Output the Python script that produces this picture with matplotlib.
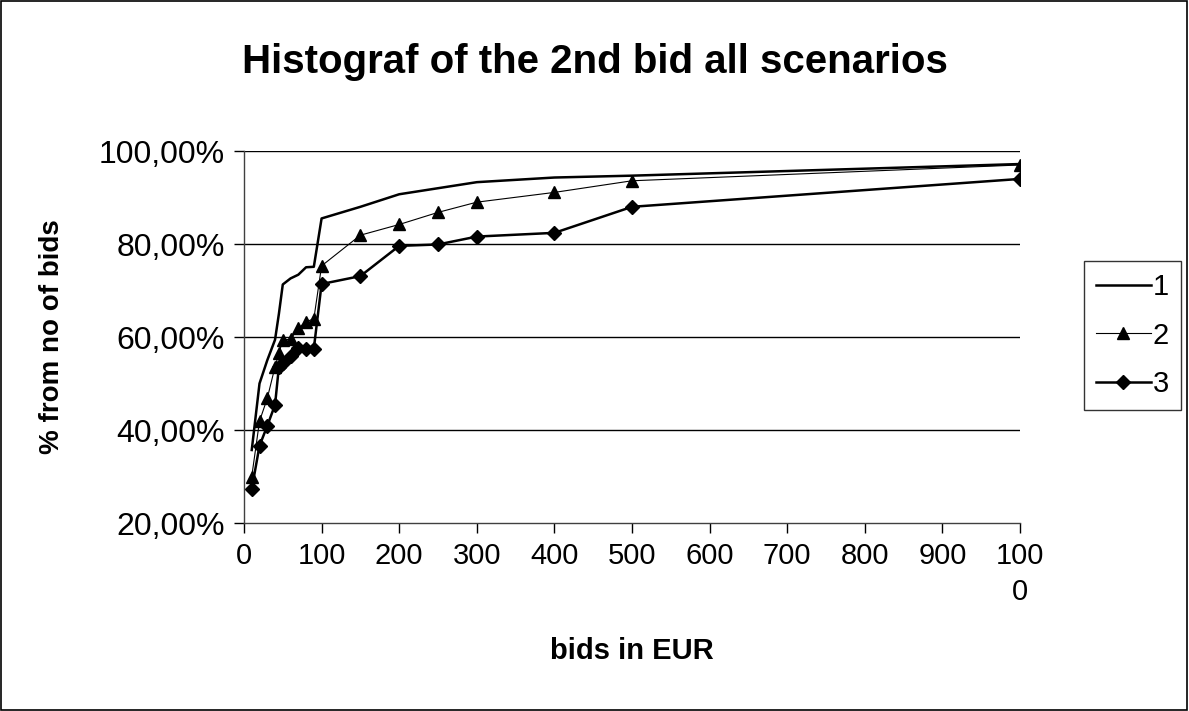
import matplotlib.pyplot as plt
from matplotlib.patches import Rectangle

plt.rcParams['font.family'] = ['Liberation Sans', 'DejaVu Sans']

# bid amounts (EUR) and cumulative share of bids per scenario (%)
bids = [10, 20, 30, 40, 45, 50, 60, 70, 80, 90, 100, 150, 200, 250, 300, 400, 500, 1000]
scenario1 = [35.7, 50.0, 55.0, 59.4, 65.0, 71.3, 72.6, 73.4, 75.0, 75.1,
             85.5, 88.0, 90.7, 92.0, 93.3, 94.3, 94.7, 97.2]
scenario2 = [30.0, 41.9, 46.8, 53.6, 56.5, 59.4, 59.5, 61.9, 63.3, 63.9,
             75.3, 81.9, 84.2, 86.8, 89.0, 91.1, 93.6, 97.0]
scenario3 = [27.3, 36.6, 40.9, 45.4, 53.6, 54.5, 55.9, 57.6, 57.5, 57.5,
             71.4, 73.1, 79.6, 79.9, 81.6, 82.4, 88.0, 94.0]

x_ticks = [0, 100, 200, 300, 400, 500, 600, 700, 800, 900, 1000]
x_labels = ['0', '100', '200', '300', '400', '500', '600', '700', '800', '900', '100\n0']
y_ticks = [20, 40, 60, 80, 100]
y_labels = ['20,00%', '40,00%', '60,00%', '80,00%', '100,00%']

fig = plt.figure(figsize=(11.89, 7.11), dpi=100)
ax = fig.add_axes([0.2052, 0.2644, 0.8579 - 0.2052, 0.7876 - 0.2644])

ax.plot(bids, scenario1, color='black', lw=1.8, label='1')
ax.plot(bids, scenario2, color='black', lw=0.8, marker='^', ms=8, label='2')
ax.plot(bids, scenario3, color='black', lw=1.8, marker='D', ms=7.5, label='3')

ax.set_xlim(0, 1000)
ax.set_ylim(20, 100)
ax.set_xticks(x_ticks)
ax.set_xticklabels(x_labels, fontsize=21, linespacing=1.35)
ax.set_yticks(y_ticks)
ax.set_yticklabels(y_labels, fontsize=23)
ax.tick_params(axis='both', direction='out', length=7, width=1, pad=7)
for v in y_ticks[1:]:
    ax.axhline(v, color='black', lw=1, zorder=0)

for s in ['top', 'right']:
    ax.spines[s].set_visible(False)
for s in ['left', 'bottom']:
    ax.spines[s].set_color('#404040')
    ax.spines[s].set_linewidth(1)

ax.set_xlabel('bids in EUR', fontsize=21, fontweight='bold', labelpad=22)
ax.set_ylabel('% from no of bids', fontsize=20, fontweight='bold', labelpad=24)
fig.suptitle('Histograf of the 2nd bid all scenarios', fontsize=29,
             fontweight='bold', y=0.94)

leg = ax.legend(loc='center left', bbox_to_anchor=(1.0825, 0.504), fontsize=21,
                frameon=True, fancybox=False, edgecolor='black',
                handlelength=1.9, handletextpad=0.05, labelspacing=0.7,
                borderpad=0.4, borderaxespad=0)
leg.get_frame().set_linewidth(1)

fig.patches.append(Rectangle((0.001, 0.002), 0.997, 0.996, transform=fig.transFigure,
                             fill=False, edgecolor='black', lw=1.2))

plt.savefig('out.png', dpi=100)
